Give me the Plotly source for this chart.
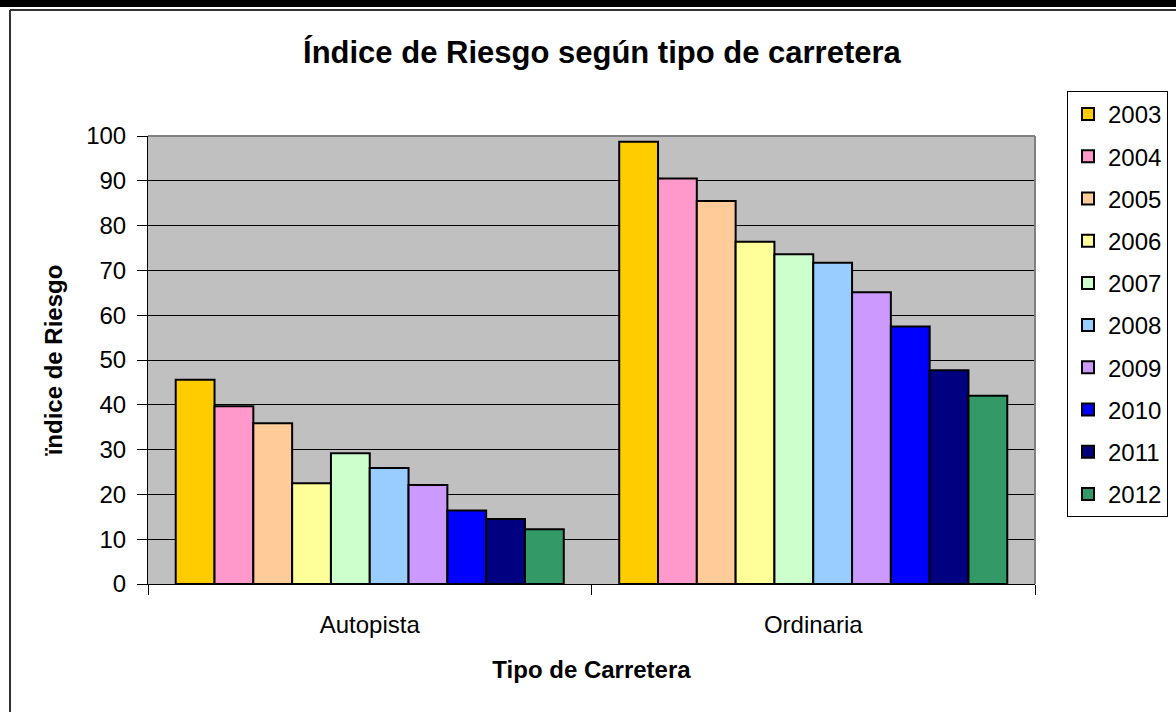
import plotly.graph_objects as go

categories = ["Autopista", "Ordinaria"]
years = ["2003", "2004", "2005", "2006", "2007", "2008", "2009", "2010", "2011", "2012"]
autopista = [45.6, 39.7, 35.9, 22.5, 29.2, 25.9, 22.1, 16.4, 14.5, 12.2]
ordinaria = [98.7, 90.5, 85.5, 76.4, 73.6, 71.7, 65.1, 57.5, 47.7, 42.0]
colors = ["#FFCC00", "#FF99CC", "#FFCC99", "#FFFF99", "#CCFFCC",
          "#99CCFF", "#CC99FF", "#0000FF", "#000080", "#339966"]

W, H = 1176, 712
L, R, T, B = 148, 1035, 136, 584

fig = go.Figure()
for i, y in enumerate(years):
    fig.add_trace(go.Bar(
        name=y, x=categories, y=[autopista[i], ordinaria[i]],
        legendgroup=y,
        marker=dict(color=colors[i], line=dict(color="#000000", width=2)),
    ))

def px(x):
    return (x - L) / (R - L)

def py(y):
    return (B - y) / (B - T)

font = "Liberation Sans, Arial, sans-serif"
fig.update_layout(
    width=W, height=H,
    margin=dict(l=L, r=W - R, t=T, b=H - B, autoexpand=False),
    paper_bgcolor="white", plot_bgcolor="#C0C0C0",
    barmode="group", bargap=0.125, bargroupgap=0,
    font=dict(family=font, size=24, color="black"),
    title=dict(text="<b>Índice de Riesgo según tipo de carretera</b>",
               x=px(602), xanchor="center", y=1 - 52 / H, yanchor="middle",
               font=dict(size=31, family=font)),
    showlegend=True,
    legend=dict(x=px(1067), xanchor="left", y=py(91), yanchor="top",
                bordercolor="black", borderwidth=1, bgcolor="white",
                font=dict(size=24, family=font), tracegroupgap=8,
                itemwidth=30, maxheight=650),
    xaxis=dict(title=dict(text="<b>Tipo de Carretera</b>", standoff=24,
                          font=dict(size=24)),
               ticks="outside", tickson="boundaries", ticklen=10,
               tickcolor="black", showline=True, linecolor="black",
               linewidth=1, tickfont=dict(size=24), ticklabelstandoff=19),
    yaxis=dict(title=dict(text="<b>ïndice de Riesgo</b>", standoff=16,
                          font=dict(size=24)),
               range=[0, 100], dtick=10, ticks="outside", ticklen=10,
               tickcolor="black", showline=True, linecolor="black",
               linewidth=1, showgrid=True, gridcolor="#000000",
               gridwidth=1, tickfont=dict(size=24), zeroline=False,
               ticklabelstandoff=6),
    shapes=[
        dict(type="rect", xref="paper", yref="paper", x0=px(0), x1=px(W),
             y0=py(0), y1=py(7), fillcolor="black", line=dict(width=0)),
        dict(type="line", xref="paper", yref="paper", x0=px(10), x1=px(W),
             y0=py(10), y1=py(10), line=dict(color="#333333", width=2)),
        dict(type="line", xref="paper", yref="paper", x0=px(10), x1=px(10),
             y0=py(10), y1=py(H), line=dict(color="#333333", width=2)),
        dict(type="line", xref="paper", yref="paper", x0=1, x1=1,
             y0=0, y1=1, line=dict(color="#808080", width=2)),
        dict(type="line", xref="paper", yref="paper", x0=0, x1=1,
             y0=1, y1=1, line=dict(color="#808080", width=2)),
    ],
)

fig.write_html("out.html", config={"displayModeBar": False},
               post_script="document.body.style.margin='0';")
